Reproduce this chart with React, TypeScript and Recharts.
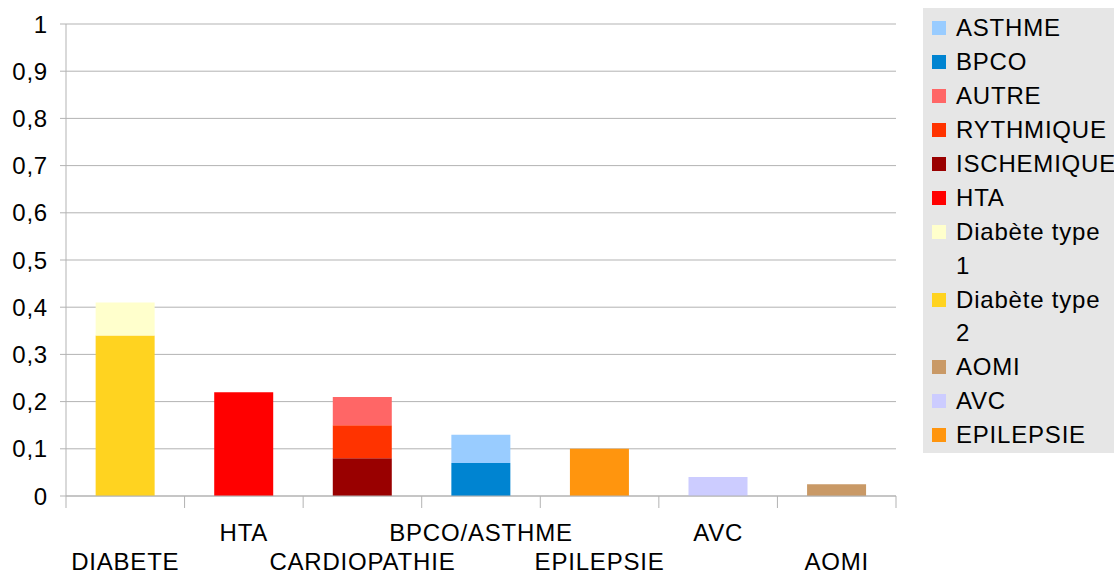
import { BarChart, Bar, XAxis, YAxis, CartesianGrid } from 'recharts'

const categories = ['DIABETE', 'HTA', 'CARDIOPATHIE', 'BPCO/ASTHME', 'EPILEPSIE', 'AVC', 'AOMI']

const epilepsie = [null, null, null, null, 0.1, null, null]
const avc = [null, null, null, null, null, 0.04, null]
const aomi = [null, null, null, null, null, null, 0.025]
const diabeteType2 = [0.34, null, null, null, null, null, null]
const diabeteType1 = [0.07, null, null, null, null, null, null]
const hta = [null, 0.22, null, null, null, null, null]
const ischemique = [null, null, 0.08, null, null, null, null]
const rythmique = [null, null, 0.07, null, null, null, null]
const autre = [null, null, 0.06, null, null, null, null]
const bpco = [null, null, null, 0.07, null, null, null]
const asthme = [null, null, null, 0.06, null, null, null]

const yTicks = [0, 0.1, 0.2, 0.3, 0.4, 0.5, 0.6, 0.7, 0.8, 0.9, 1]

// stack order: first one sits at the bottom
const series = [
  { key: 'EPILEPSIE', values: epilepsie, color: '#ff950e' },
  { key: 'AVC', values: avc, color: '#ccccff' },
  { key: 'AOMI', values: aomi, color: '#c99966' },
  { key: 'Diabète type 2', values: diabeteType2, color: '#ffd320' },
  { key: 'Diabète type 1', values: diabeteType1, color: '#ffffcc' },
  { key: 'HTA', values: hta, color: '#ff0000' },
  { key: 'ISCHEMIQUE', values: ischemique, color: '#990000' },
  { key: 'RYTHMIQUE', values: rythmique, color: '#ff3300' },
  { key: 'AUTRE', values: autre, color: '#ff6666' },
  { key: 'BPCO', values: bpco, color: '#0084d1' },
  { key: 'ASTHME', values: asthme, color: '#99ccff' },
]

const data = categories.map((name, i) => {
  const row: Record<string, any> = { name }
  series.forEach(s => { row[s.key] = s.values[i] })
  return row
})

const FONT = '"Liberation Sans", Arial, sans-serif'
const GRAY = '#b3b3b3'
const CHART_W = 910
const CHART_H = 573
const PLOT_LEFT = 66
const PLOT_RIGHT = 14
const BAND = (CHART_W - PLOT_LEFT - PLOT_RIGHT) / categories.length

function XTick(props: any) {
  const { x, y, payload, index } = props
  const lower = index % 2 === 0
  const top = y - 8
  return (
    <g>
      <line x1={x - BAND / 2} x2={x - BAND / 2} y1={top} y2={top + 12} stroke={GRAY} />
      {index === categories.length - 1 && (
        <line x1={x + BAND / 2} x2={x + BAND / 2} y1={top} y2={top + 12} stroke={GRAY} />
      )}
      <text
        x={x}
        y={lower ? top + 74 : top + 45}
        textAnchor="middle"
        fontSize={24}
        letterSpacing={0.8}
        fontFamily={FONT}
        fill="#000"
      >
        {payload.value}
      </text>
    </g>
  )
}

export default function App() {
  const legendItems = [...series].reverse()
  return (
    <div style={{ position: 'absolute', left: 0, top: 0, width: 1114, height: 573, background: '#fff', overflow: 'hidden' }}>
      <BarChart
        width={CHART_W}
        height={CHART_H}
        data={data}
        margin={{ top: 24, right: PLOT_RIGHT, bottom: 0, left: 0 }}
        barCategoryGap="25%"
      >
        <CartesianGrid vertical={false} stroke={GRAY} />
        <XAxis
          dataKey="name"
          height={77}
          tickLine={false}
          axisLine={{ stroke: GRAY }}
          tick={<XTick />}
          interval={0}
        />
        <YAxis
          width={PLOT_LEFT}
          domain={[0, 1]}
          ticks={yTicks}
          interval={0}
          axisLine={{ stroke: GRAY }}
          tickLine={{ stroke: GRAY }}
          tickSize={6}
          tickMargin={12}
          tickFormatter={(v: number) => String(v).replace('.', ',')}
          tick={{ fontSize: 24, fontFamily: FONT, fill: '#000', letterSpacing: 0.8 }}
        />
        {series.map(s => (
          <Bar key={s.key} dataKey={s.key} stackId="a" fill={s.color} isAnimationActive={false} />
        ))}
      </BarChart>
      <div
        style={{
          position: 'absolute',
          left: 923,
          top: 8,
          width: 191,
          height: 445,
          background: '#e6e6e6',
          fontFamily: FONT,
          fontSize: 24,
          letterSpacing: 0.8,
          lineHeight: '33.5px',
          color: '#000',
          paddingTop: 3,
          boxSizing: 'border-box',
        }}
      >
        {legendItems.map(s => (
          <div key={s.key} style={{ display: 'flex', alignItems: 'flex-start', marginBottom: 0.5 }}>
            <span
              style={{
                display: 'inline-block',
                width: 14,
                height: 14,
                background: s.color,
                marginLeft: 9,
                marginRight: 10,
                marginTop: 10,
                flex: 'none',
              }}
            />
            <span style={{ whiteSpace: 'normal', width: 150, flex: 'none' }}>{s.key}</span>
          </div>
        ))}
      </div>
    </div>
  )
}
